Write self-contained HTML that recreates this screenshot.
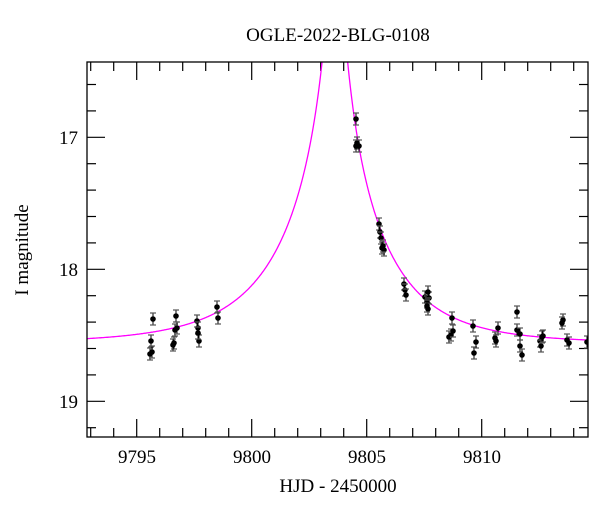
<!DOCTYPE html>
<html><head><meta charset="utf-8"><style>
body{margin:0;background:#fff;width:600px;height:512px;overflow:hidden}
svg text{font-family:"Liberation Serif",serif;fill:#000}
</style></head><body>
<svg id="s" width="600" height="512" xmlns="http://www.w3.org/2000/svg">
<text x="338" y="41" font-size="19" text-anchor="middle">OGLE-2022-BLG-0108</text>
<text x="338" y="492" font-size="19" text-anchor="middle">HJD - 2450000</text>
<text transform="translate(28,250) rotate(-90)" font-size="19" text-anchor="middle">I magnitude</text>
<g font-size="19" text-anchor="end">
<text x="78" y="144">17</text><text x="78" y="276">18</text><text x="78" y="408">19</text>
</g>
<g font-size="19" text-anchor="middle">
<text x="137" y="463">9795</text><text x="252" y="463">9800</text><text x="367" y="463">9805</text><text x="482" y="463">9810</text>
</g>
<g id="ticks" stroke="#000" stroke-width="1.2"></g>
<defs><clipPath id="c"><rect x="87" y="62" width="501" height="375"/></clipPath></defs>
<path id="model" clip-path="url(#c)" fill="none" stroke="#ff00ff" stroke-width="1.3"/>
<g id="pts" clip-path="url(#c)"></g>
<rect x="87" y="62" width="501" height="375" fill="none" stroke="#000" stroke-width="1.3"/>
</svg>
<script>
var NS="http://www.w3.org/2000/svg";
function X(t){return 136.7+(t-9795)*23;}
function Y(m){return 137.3+(m-17)*132;}
var tk=document.getElementById("ticks"),h="";
for(var t=9793;t<=9814;t++){var x=X(t),L=(t%5==0)?18:9;
h+='<line x1="'+x+'" y1="437" x2="'+x+'" y2="'+(437-L)+'"/><line x1="'+x+'" y1="62" x2="'+x+'" y2="'+(62+L)+'"/>';}
for(var i=0;i<15;i++){var m=16.6+i*0.2;if(m>19.25)break;var y=Y(m),maj=Math.abs(m-Math.round(m))<0.01,L=maj?18:9;
h+='<line x1="87" y1="'+y+'" x2="'+(87+L)+'" y2="'+y+'"/><line x1="588" y1="'+y+'" x2="'+(588-L)+'" y2="'+y+'"/>';}
tk.innerHTML=h;
var t0=9803.63,u0=0.05,base=18.56,d="";
for(var px=87;px<=588;px+=0.5){var t=9792.87+(px-88)/23;var tE=t<t0?4.4:4.0;var tau=(t-t0)/tE;var u=Math.sqrt(u0*u0+tau*tau);
var A=(u*u+2)/(u*Math.sqrt(u*u+4));var m=base-2.5*Math.log10(A);var y=Y(m);if(y<40)y=40;
d+=(d?"L":"M")+px.toFixed(1)+" "+y.toFixed(1);}
document.getElementById("model").setAttribute("d",d);
var P=[[153,319],[151,341],[150,354],[152,352],[176,316],[175,330],[174,343],[173,345],[177,328],[197,321],[198,328],[199,341],[198,333],[217,307],[218,318],
[356,119],[357,143],[359,146],[356,146],[379,224],[380,232],[381,238],[382,248],[384,250],[383,246],
[404,284],[405,290],[406,295],[425,297],[427,302],[428,309],[429,298],[428,292],[427,306],[449,337],[451,335],[452,318],[453,331],[473,326],[474,353],[476,342],[498,328],[495,338],[496,341],[517,312],[517,330],[520,334],[520,346],[522,355],[540,341],[541,346],[542,337],[543,336],[563,320],[562,323],[567,340],[569,343],[587,342]];
var g="";
P.forEach(function(p){var x=p[0],y=p[1],e=6;
g+='<line x1="'+x+'" y1="'+(y-e)+'" x2="'+x+'" y2="'+(y+e)+'" stroke="#000" stroke-width="1"/>';
g+='<line x1="'+(x-3)+'" y1="'+(y-e)+'" x2="'+(x+3)+'" y2="'+(y-e)+'" stroke="#555" stroke-width="1.2"/>';
g+='<line x1="'+(x-3)+'" y1="'+(y+e)+'" x2="'+(x+3)+'" y2="'+(y+e)+'" stroke="#555" stroke-width="1.2"/>';
g+='<circle cx="'+x+'" cy="'+y+'" r="2.8" fill="#000"/>';});
document.getElementById("pts").innerHTML=g;
</script>
</body></html>
